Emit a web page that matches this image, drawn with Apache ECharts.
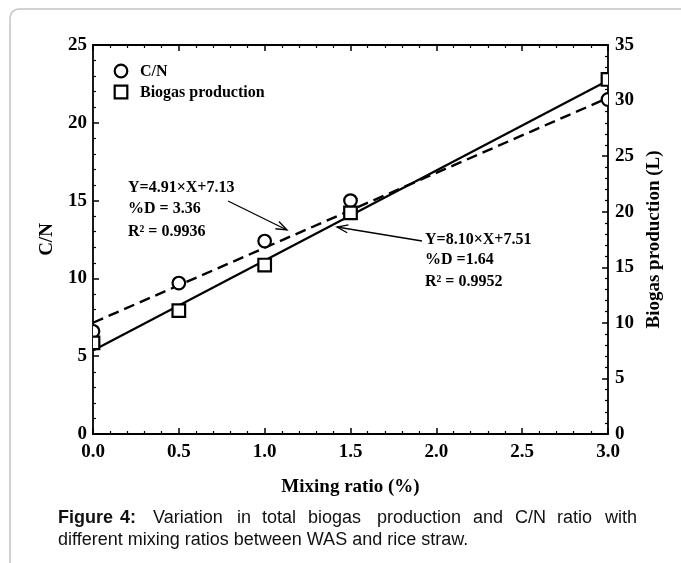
<!DOCTYPE html>
<html>
<head>
<meta charset="utf-8">
<script src="https://cdn.jsdelivr.net/npm/echarts@6/dist/echarts.min.js"></script>
<style>
html,body{margin:0;padding:0;background:#fff;}
#chart{width:681px;height:563px;}
</style>
</head>
<body>
<div id="chart"></div>
<script>
// ---- data ----
const mixRatio = [0, 0.5, 1.0, 1.5, 3.0];
const cnValues = [6.6, 9.7, 12.4, 15.0, 21.5];
const biogasValues = [8.2, 11.1, 15.2, 19.9, 31.9];
const fitX = [0, 3.0];
const cnFit = [7.15, 21.6];        // dashed fit line ends (C/N)
const biogasFit = [7.51, 31.81];   // solid fit line ends (biogas)
const cnFitText = ['Y=4.91×X+7.13', '%D = 3.36', 'R² = 0.9936'];
const bioFitText = ['Y=8.10×X+7.51', '%D =1.64', 'R² = 0.9952'];
const legendNames = ['C/N', 'Biogas production'];
const captionLine1 = ['Figure', '4:', 'Variation', 'in', 'total', 'biogas', 'production', 'and', 'C/N', 'ratio', 'with'];
const captionLine2 = 'different mixing ratios between WAS and rice straw.';

const serif = '"Liberation Serif","Times New Roman",serif';
const sans = '"Liberation Sans",Arial,sans-serif';

const pair = (xs, ys) => xs.map((x, i) => [x, ys[i]]);

function arrow(x1, y1, x2, y2) {
  const dx = x2 - x1, dy = y2 - y1, L = Math.hypot(dx, dy);
  const ux = dx / L, uy = dy / L, px = -uy, py = ux;
  const hl = 11, hw = 4;
  const bx = x2 - ux * hl, by = y2 - uy * hl;
  return [
    {type: 'line', shape: {x1, y1, x2, y2}, style: {stroke: '#000', lineWidth: 1.3}},
    {type: 'polyline', shape: {points: [[bx + px * hw, by + py * hw], [x2, y2], [bx - px * hw, by - py * hw]]},
     style: {stroke: '#000', lineWidth: 1.3, fill: null}}
  ];
}

const annoStyle = {fontFamily: serif, fontWeight: 'bold', fontSize: 16, fill: '#000', verticalAlign: 'middle'};
const capX = [58, 120, 153, 237, 262, 308, 377, 473, 515, 557, 605];
const R = 6.3;

const graphics = [
  {type: 'rect', shape: {x: 10, y: 9, width: 720, height: 620, r: 9}, style: {fill: null, stroke: '#c4c4c4', lineWidth: 1.5}, silent: true},
  // legend
  {type: 'circle', shape: {cx: 121, cy: 71, r: R}, style: {fill: '#fff', stroke: '#000', lineWidth: 2.2}},
  {type: 'text', x: 140, y: 72, style: Object.assign({text: legendNames[0]}, annoStyle)},
  {type: 'rect', shape: {x: 121 - R, y: 92 - R, width: 2 * R, height: 2 * R}, style: {fill: '#fff', stroke: '#000', lineWidth: 2.2}},
  {type: 'text', x: 140, y: 93, style: Object.assign({text: legendNames[1]}, annoStyle)},
  // annotations
  {type: 'text', x: 128, y: 188, style: Object.assign({text: cnFitText[0]}, annoStyle)},
  {type: 'text', x: 128, y: 209, style: Object.assign({text: cnFitText[1]}, annoStyle)},
  {type: 'text', x: 128, y: 232, style: Object.assign({text: cnFitText[2]}, annoStyle)},
  {type: 'text', x: 425, y: 240, style: Object.assign({text: bioFitText[0]}, annoStyle)},
  {type: 'text', x: 425, y: 260, style: Object.assign({text: bioFitText[1]}, annoStyle)},
  {type: 'text', x: 425, y: 282, style: Object.assign({text: bioFitText[2]}, annoStyle)},
  ...arrow(228, 201, 287, 230),
  ...arrow(422, 241, 337, 227),
  // caption
  ...captionLine1.map((w, i) => ({type: 'text', x: capX[i], y: 518,
    style: {text: w, fontFamily: sans, fontSize: 18, fontWeight: i < 2 ? 'bold' : 'normal', fill: '#111', verticalAlign: 'middle'}})),
  {type: 'text', x: 58, y: 540, style: {text: captionLine2, fontFamily: sans, fontSize: 18, fill: '#111', verticalAlign: 'middle'}}
];

const axisLine = {show: true, onZero: false, lineStyle: {color: '#000', width: 1.8}};
const axisTick = {show: true, inside: true, length: 6, lineStyle: {color: '#000', width: 1.5}};
const minorTick = {show: true, splitNumber: 5, length: 3, lineStyle: {color: '#000', width: 1.2}};
const tickFont = {fontFamily: serif, fontWeight: 'bold', fontSize: 19, color: '#000'};
const nameFont = {fontFamily: serif, fontWeight: 'bold', fontSize: 19, color: '#000'};

function markerSeries(name, data, yIdx, shape) {
  return {
    type: 'custom', name, yAxisIndex: yIdx, xAxisIndex: 0, clip: true, z: 5,
    data: data,
    encode: {x: 0, y: 1},
    renderItem: function (params, api) {
      const p = api.coord([api.value(0), api.value(1)]);
      if (shape === 'circle') {
        return {type: 'circle', shape: {cx: p[0], cy: p[1], r: R},
          style: {fill: '#fff', stroke: '#000', lineWidth: 2.2}};
      }
      return {type: 'rect', shape: {x: p[0] - R, y: p[1] - R, width: 2 * R, height: 2 * R},
        style: {fill: '#fff', stroke: '#000', lineWidth: 2.2}};
    }
  };
}

const option = {
  animation: false,
  backgroundColor: '#fff',
  grid: {left: 93, right: 73, top: 45, bottom: 129, containLabel: false, outerBoundsMode: 'none'},
  xAxis: [
    {type: 'value', position: 'bottom', min: 0, max: 3, interval: 0.5,
     name: 'Mixing ratio (%)', nameLocation: 'middle', nameGap: 44, nameTextStyle: nameFont,
     axisLine, axisTick, minorTick, splitLine: {show: false},
     axisLabel: Object.assign({margin: 9, formatter: v => v.toFixed(1)}, tickFont)},
    {type: 'value', position: 'top', min: 0, max: 3, interval: 0.5,
     axisLine, axisTick, minorTick, splitLine: {show: false}, axisLabel: {show: false}}
  ],
  yAxis: [
    {type: 'value', position: 'left', min: 0, max: 25, interval: 5,
     name: 'C/N', nameLocation: 'middle', nameGap: 36, nameRotate: 90, nameTextStyle: nameFont,
     axisLine, axisTick, minorTick, splitLine: {show: false},
     axisLabel: Object.assign({margin: 6}, tickFont)},
    {type: 'value', position: 'right', min: 0, max: 35, interval: 5,
     name: 'Biogas production (L)', nameLocation: 'middle', nameGap: 37, nameRotate: 90, nameTextStyle: nameFont,
     axisLine, axisTick, minorTick, splitLine: {show: false},
     axisLabel: Object.assign({margin: 7}, tickFont)}
  ],
  series: [
    {type: 'line', name: 'C/N fit', yAxisIndex: 0, data: pair(fitX, cnFit), symbol: 'none', z: 3,
     lineStyle: {color: '#000', width: 2.4, type: [11, 6]}},
    {type: 'line', name: 'Biogas fit', yAxisIndex: 1, data: pair(fitX, biogasFit), symbol: 'none', z: 3,
     lineStyle: {color: '#000', width: 2.2}},
    markerSeries(legendNames[0], pair(mixRatio, cnValues), 0, 'circle'),
    markerSeries(legendNames[1], pair(mixRatio, biogasValues), 1, 'rect')
  ],
  graphic: graphics
};

const chart = echarts.init(document.getElementById('chart'), null, {renderer: 'canvas'});
chart.setOption(option);
</script>
</body>
</html>
